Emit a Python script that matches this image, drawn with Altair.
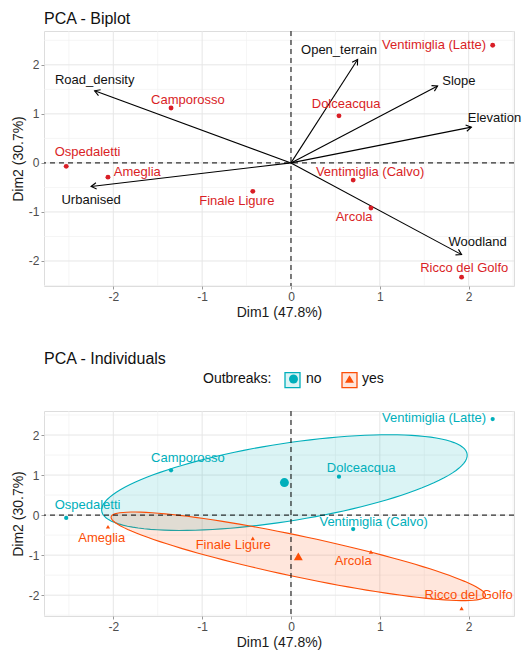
import altair as alt
import numpy as np
import pandas as pd

# ---------------- data ----------------
sites = ["Ventimiglia (Latte)", "Camporosso", "Dolceacqua", "Ospedaletti", "Ameglia",
         "Finale Ligure", "Ventimiglia (Calvo)", "Arcola", "Ricco del Golfo"]
dim1 = [2.27, -1.35, 0.54, -2.53, -2.06, -0.43, 0.70, 0.90, 1.92]
dim2 = [2.40, 1.12, 0.96, -0.07, -0.29, -0.58, -0.35, -0.92, -2.33]
outbreaks = ["no", "no", "no", "no", "yes", "yes", "no", "yes", "yes"]

# repelled label anchors (data units)
bi_lab_x = [1.61, -1.16, 0.62, -2.29, -1.73, -0.61, 0.89, 0.71, 1.95]
bi_lab_y = [2.41, 1.29, 1.21, 0.22, -0.18, -0.77, -0.18, -1.11, -2.14]
ind_lab_x = [1.61, -1.16, 0.79, -2.29, -2.13, -0.65, 0.93, 0.70, 2.00]
ind_lab_y = [2.42, 1.43, 1.17, 0.25, -0.56, -0.75, -0.18, -1.15, -2.00]

variables = ["Road_density", "Urbanised", "Open_terrain", "Slope", "Elevation", "Woodland"]
var_x = [-2.21, -2.25, 0.75, 1.65, 2.03, 1.92]
var_y = [1.47, -0.48, 2.11, 1.57, 0.73, -1.87]
var_lab_x = [-2.21, -2.25, 0.54, 1.89, 2.29, 2.10]
var_lab_y = [1.69, -0.75, 2.31, 1.68, 0.92, -1.62]

groups = ["no", "yes"]
group_colors = ["#00AFBB", "#FC4E07"]
group_fills = ["rgba(0,175,187,0.14)", "rgba(252,78,7,0.14)"]
group_shapes = ["circle", "triangle-up"]

major_ticks = [-2, -1, 0, 1, 2]
minor_x = [-2.5, -1.5, -0.5, 0.5, 1.5, 2.5]
minor_y = [-2.5, -1.5, -0.5, 0.5, 1.5, 2.5]

# ---------------- layout ----------------
W = 470
H1, H2 = 255, 205
XDOM = [-2.78, 2.51]
YDOM1 = [-2.51, 2.69]
YDOM2 = [-2.52, 2.60]
FONT = "Liberation Sans"
RED = "#D91E26"

ind = pd.DataFrame({"site": sites, "dim1": dim1, "dim2": dim2, "Outbreaks": outbreaks,
                    "blx": bi_lab_x, "bly": bi_lab_y, "ilx": ind_lab_x, "ily": ind_lab_y})

sx = W / (XDOM[1] - XDOM[0])
sy = H1 / (YDOM1[1] - YDOM1[0])
var = pd.DataFrame({"var": variables, "vx": var_x, "vy": var_y, "lx": var_lab_x, "ly": var_lab_y,
                    "ox": 0.0, "oy": 0.0})
var["ang"] = (np.degrees(np.arctan2(-var["vy"] * sy, var["vx"] * sx))) % 360

# 95% confidence ellipses of the group means (computed from the points)
def ellipse(group):
    pts = np.array([[a, b] for a, b, g in zip(dim1, dim2, outbreaks) if g == group]).T
    n = pts.shape[1]
    m = pts.mean(axis=1)
    cov = np.cov(pts) / n
    vals, vecs = np.linalg.eigh(cov)
    t = np.linspace(0, 2 * np.pi, 121)
    circ = np.vstack([np.cos(t), np.sin(t)])
    e = m[:, None] + np.sqrt(5.991464547) * (vecs @ (np.sqrt(vals)[:, None] * circ))
    return pd.DataFrame({"ex": e[0], "ey": e[1], "k": np.arange(len(t)), "Outbreaks_key": group})

ell = pd.concat([ellipse(g) for g in groups], ignore_index=True)

def ax(title):
    return alt.Axis(values=major_ticks, grid=False, domain=False, tickSize=3, tickColor="#9a9a9a",
                    tickWidth=1, labelColor="#4d4d4d", labelFontSize=12, labelPadding=2,
                    labelExpr="'' + datum.value", title=title, titleFontSize=14,
                    titleFontWeight="normal", titleColor="#1a1a1a", titlePadding=3,
                    labelFont=FONT, titleFont=FONT)

def X(f, t="Dim1 (47.8%)"):
    return alt.X(f, type="quantitative", scale=alt.Scale(domain=XDOM, nice=False, zero=False), axis=ax(t))

def Y(f, dom, t="Dim2 (30.7%)"):
    return alt.Y(f, type="quantitative", scale=alt.Scale(domain=dom, nice=False, zero=False), axis=ax(t))


def background(ydom):
    gx_min = alt.Chart(pd.DataFrame({"g": minor_x})).mark_rule(color="#f1f1f1", strokeWidth=0.7).encode(x=X("g"))
    gy_min = alt.Chart(pd.DataFrame({"g": minor_y})).mark_rule(color="#f1f1f1", strokeWidth=0.7).encode(y=Y("g", ydom))
    gx = alt.Chart(pd.DataFrame({"g": major_ticks})).mark_rule(color="#e6e6e6", strokeWidth=1).encode(x=X("g"))
    gy = alt.Chart(pd.DataFrame({"g": major_ticks})).mark_rule(color="#e6e6e6", strokeWidth=1).encode(y=Y("g", ydom))
    return [gx_min, gy_min, gx, gy]

def zero_lines(ydom):
    z = pd.DataFrame({"z": [0.0]})
    v = alt.Chart(z).mark_rule(color="black", strokeDash=[5, 4], strokeWidth=1).encode(x=X("z"))
    h = alt.Chart(z).mark_rule(color="black", strokeDash=[5, 4], strokeWidth=1).encode(y=Y("z", ydom))
    return [v, h]

# ---------------- top: biplot ----------------
arrows = alt.Chart(var).mark_rule(color="black", strokeWidth=1.1).encode(
    x=X("ox"), y=Y("oy", YDOM1), x2="vx", y2="vy")
heads = alt.Chart(var).mark_point(shape="M -1 -0.6 L 0 0 L -1 0.6", filled=False, color="black",
                                  strokeWidth=1.1, size=110, opacity=1).encode(
    x=X("vx"), y=Y("vy", YDOM1), angle=alt.Angle("ang:Q", scale=None))
var_text = alt.Chart(var).mark_text(font=FONT, fontSize=13, color="#111111").encode(
    x=X("lx"), y=Y("ly", YDOM1), text="var:N")
pts_top = alt.Chart(ind).mark_circle(color=RED, size=24, opacity=1).encode(x=X("dim1"), y=Y("dim2", YDOM1))
lab_top = alt.Chart(ind).mark_text(font=FONT, fontSize=13, color=RED).encode(
    x=X("blx"), y=Y("bly", YDOM1), text="site:N")

top = alt.layer(*background(YDOM1), *zero_lines(YDOM1), arrows, heads, var_text, pts_top, lab_top).properties(
    width=W, height=H1,
    title=alt.TitleParams("PCA - Biplot", anchor="start", frame="group", fontSize=16, fontWeight="normal",
                          font=FONT, color="#111111", offset=4))

# ---------------- bottom: individuals ----------------
color_scale = alt.Scale(domain=groups, range=group_colors)
shape_scale = alt.Scale(domain=groups, range=group_shapes)
LX, LY = 159, 341
legend = alt.Legend(title="Outbreaks:", orient="none", legendX=LX, legendY=LY, direction="horizontal",
                    titleOrient="left", titleFontSize=14, titleFontWeight="normal", titleColor="#111111",
                    titleFont=FONT, labelFont=FONT, labelFontSize=14, labelColor="#111111",
                    symbolSize=80, columnPadding=20, titlePadding=14.5, labelOffset=5.5,
                    symbolStrokeWidth=1)
# ellipse keys: boxes without text, drawn under the symbols of the legend above
box_legend = alt.Legend(title=None, orient="none", legendX=LX + 81, legendY=LY - 0.5,
                        direction="horizontal", labelExpr="''", labelOffset=0, labelFontSize=14,
                        symbolType="square", symbolSize=225, symbolStrokeWidth=1.3,
                        columnPadding=36)
box_stroke = alt.Scale(range=group_colors)
box_fill = alt.Scale(range=group_fills)

ellipses = alt.Chart(ell).mark_line(interpolate="linear-closed", strokeWidth=1.1).encode(
    x=X("ex"), y=Y("ey", YDOM2), order=alt.Order("k:Q"),
    stroke=alt.Stroke("Outbreaks_key:N", scale=box_stroke, legend=box_legend),
    fill=alt.Fill("Outbreaks_key:N", scale=box_fill, legend=box_legend))

pts_bot = alt.Chart(ind).mark_point(filled=True, size=18, opacity=1).encode(
    x=X("dim1"), y=Y("dim2", YDOM2),
    color=alt.Color("Outbreaks:N", scale=color_scale, legend=legend),
    shape=alt.Shape("Outbreaks:N", scale=shape_scale, legend=legend))
lab_bot = alt.Chart(ind).mark_text(font=FONT, fontSize=13).encode(
    x=X("ilx"), y=Y("ily", YDOM2), text="site:N",
    color=alt.Color("Outbreaks:N", scale=color_scale, legend=legend))
centroids = alt.Chart(ind).mark_point(filled=True, size=80, opacity=1).encode(
    x=X("mean(dim1)"), y=Y("mean(dim2)", YDOM2),
    color=alt.Color("Outbreaks:N", scale=color_scale, legend=legend),
    shape=alt.Shape("Outbreaks:N", scale=shape_scale, legend=legend))

bottom = alt.layer(*background(YDOM2), ellipses, *zero_lines(YDOM2), pts_bot, lab_bot, centroids).properties(
    width=W, height=H2,
    title=alt.TitleParams("PCA - Individuals", anchor="start", frame="group", fontSize=16, fontWeight="normal",
                          font=FONT, color="#111111", offset=44))

chart = alt.vconcat(top, bottom, spacing=30).properties(
    padding={"left": 2, "top": 2, "right": 0, "bottom": 0}
).configure_view(stroke=None).configure(font=FONT)

chart.save("out.html", embed_options={"renderer": "svg", "actions": False})
